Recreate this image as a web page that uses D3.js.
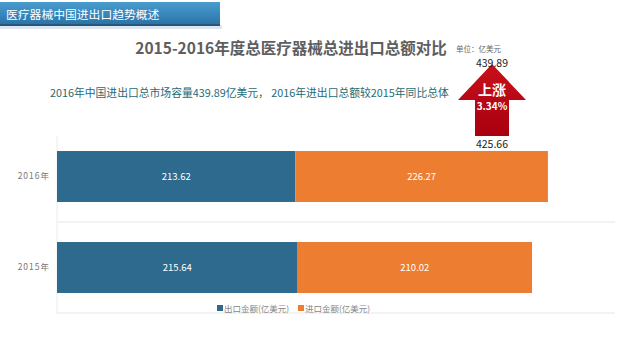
<!DOCTYPE html>
<html>
<head>
<meta charset="utf-8">
<script src="https://cdn.jsdelivr.net/npm/d3@7"></script>
<style>
  body { margin:0; background:#fff; }
  text { font-family:"Noto Sans CJK SC","Noto Sans",sans-serif; }
</style>
</head>
<body>
<div id="chart"></div>
<script>
var years = ["2016年", "2015年"];
var seriesNames = ["出口金额(亿美元)", "进口金额(亿美元)"];
var exportVals = [213.62, 215.64];
var importVals = [226.27, 210.02];
var totals = [439.89, 425.66];
var growth = "3.34%";

var W = 640, H = 353;
var margin = {top:131, right:25, bottom:40, left:57};

var color = d3.scaleOrdinal()
  .domain(seriesNames)
  .range(["#2e6a8d", "#ed7d31"]);

var svg = d3.select("#chart").append("svg")
  .attr("width", W)
  .attr("height", H);

// header bar
var defs = svg.append("defs");
var g1 = defs.append("linearGradient").attr("id","hdr").attr("x1",0).attr("y1",0).attr("x2",0).attr("y2",1);
g1.append("stop").attr("offset","0%").attr("stop-color","#4a9ccd");
g1.append("stop").attr("offset","55%").attr("stop-color","#3685bb");
g1.append("stop").attr("offset","100%").attr("stop-color","#2b6fa0");
var g2 = defs.append("linearGradient").attr("id","arr").attr("x1",0).attr("y1",0).attr("x2",0).attr("y2",1);
g2.append("stop").attr("offset","0%").attr("stop-color","#c8101b");
g2.append("stop").attr("offset","100%").attr("stop-color","#a80010");

svg.append("rect").attr("x",0).attr("y",25).attr("width",222).attr("height",4).attr("fill","#dde6ee");
svg.append("rect").attr("x",0).attr("y",2).attr("width",220).attr("height",24).attr("fill","url(#hdr)");
svg.append("rect").attr("x",0).attr("y",24).attr("width",220).attr("height",2).attr("fill","#24587f");
svg.append("text").attr("x",6).attr("y",18.5).attr("fill","#fff").attr("font-size",11.8)
  .text("医疗器械中国进出口趋势概述");

// titles
svg.append("text").attr("x",291).attr("y",54).attr("text-anchor","middle")
  .attr("fill","#5e5e5e").attr("font-size",15.5).attr("font-weight","bold")
  .text("2015-2016年度总医疗器械总进出口总额对比");
svg.append("text").attr("x",456).attr("y",52).attr("fill","#666").attr("font-size",7.5)
  .text("单位：亿美元");
svg.append("text").attr("x",50).attr("y",97).attr("fill","#1f6b73").attr("font-size",10.8)
  .text("2016年中国进出口总市场容量439.89亿美元， 2016年进出口总额较2015年同比总体");

// scales
var x = d3.scaleLinear().domain([0, 500]).range([margin.left, W - margin.right]);
var y = d3.scaleBand().domain(years).range([margin.top, H - margin.bottom]).paddingInner(0.44).paddingOuter(0.22);

// grid lines at band boundaries
var step = y.step();
svg.append("g").selectAll("line")
  .data([y.range()[0] + step, y.range()[1]])
  .enter().append("line")
  .attr("x1", x(0)).attr("x2", x(500))
  .attr("y1", function(d){ return d; }).attr("y2", function(d){ return d; })
  .attr("stroke","#e6e6e6").attr("stroke-width",1);
svg.append("line").attr("x1",x(0)).attr("x2",x(0))
  .attr("y1",margin.top + 5).attr("y2",H - margin.bottom)
  .attr("stroke","#ececec");

var yAxis = d3.axisLeft(y).tickSize(0).tickPadding(7);
svg.append("g").attr("transform","translate(" + x(0) + ",0)").call(yAxis)
  .call(function(g){ g.select(".domain").remove(); })
  .selectAll("text").attr("fill","#777").attr("font-size",8.5).attr("letter-spacing","1px")
  .style("font-family","'Noto Sans CJK SC',sans-serif");

// stacked bars
var rows = years.map(function(yr, i){
  return [
    {year:yr, name:seriesNames[0], x0:0, x1:exportVals[i], v:exportVals[i]},
    {year:yr, name:seriesNames[1], x0:exportVals[i], x1:exportVals[i] + importVals[i], v:importVals[i]}
  ];
});
var segs = [].concat.apply([], rows);

svg.append("g").selectAll("rect").data(segs).enter().append("rect")
  .attr("x", function(d){ return x(d.x0); })
  .attr("y", function(d){ return y(d.year); })
  .attr("width", function(d){ return x(d.x1) - x(d.x0); })
  .attr("height", y.bandwidth())
  .attr("fill", function(d){ return color(d.name); });

svg.append("g").selectAll("text").data(segs).enter().append("text")
  .attr("x", function(d){ return (x(d.x0) + x(d.x1)) / 2; })
  .attr("y", function(d){ return y(d.year) + y.bandwidth() / 2 + 3.5; })
  .attr("text-anchor","middle").attr("fill","#fff").attr("font-size",9.5)
  .text(function(d){ return d.v.toFixed(2); });

// growth arrow
var ax = 492;
var arrowTop = 64, headBase = 100, shaftBot = 136;
svg.append("path")
  .attr("d", "M" + ax + "," + arrowTop + " L" + (ax + 34) + "," + headBase + " L" + (ax + 17) + "," + headBase +
    " L" + (ax + 17) + "," + shaftBot + " L" + (ax - 17) + "," + shaftBot + " L" + (ax - 17) + "," + headBase +
    " L" + (ax - 34) + "," + headBase + " Z")
  .attr("fill","url(#arr)");
svg.append("text").attr("x",ax).attr("y",95).attr("text-anchor","middle")
  .attr("fill","#fff").attr("font-size",14).attr("font-weight","bold").text("上涨");
svg.append("text").attr("x",ax).attr("y",110).attr("text-anchor","middle")
  .attr("fill","#fff").attr("font-size",10).attr("font-weight","bold").text(growth);
svg.append("text").attr("x",ax).attr("y",66.5).attr("text-anchor","middle")
  .attr("fill","#222").attr("font-size",10.5).attr("font-family","'Liberation Sans',sans-serif").text(totals[0].toFixed(2));
svg.append("text").attr("x",ax).attr("y",148).attr("text-anchor","middle")
  .attr("fill","#222").attr("font-size",10.5).attr("font-family","'Liberation Sans',sans-serif").text(totals[1].toFixed(2));

// legend
var legend = svg.append("g").selectAll("g").data(seriesNames).enter().append("g")
  .attr("transform", function(d, i){ return "translate(" + (217 + i * 81) + ",312)"; });
legend.append("rect").attr("x",0).attr("y",-7).attr("width",6).attr("height",6)
  .attr("fill", function(d){ return color(d); });
legend.append("text").attr("x",7).attr("y",0).attr("fill","#888").attr("font-size",8.5)
  .text(function(d){ return d; });
</script>
</body>
</html>
